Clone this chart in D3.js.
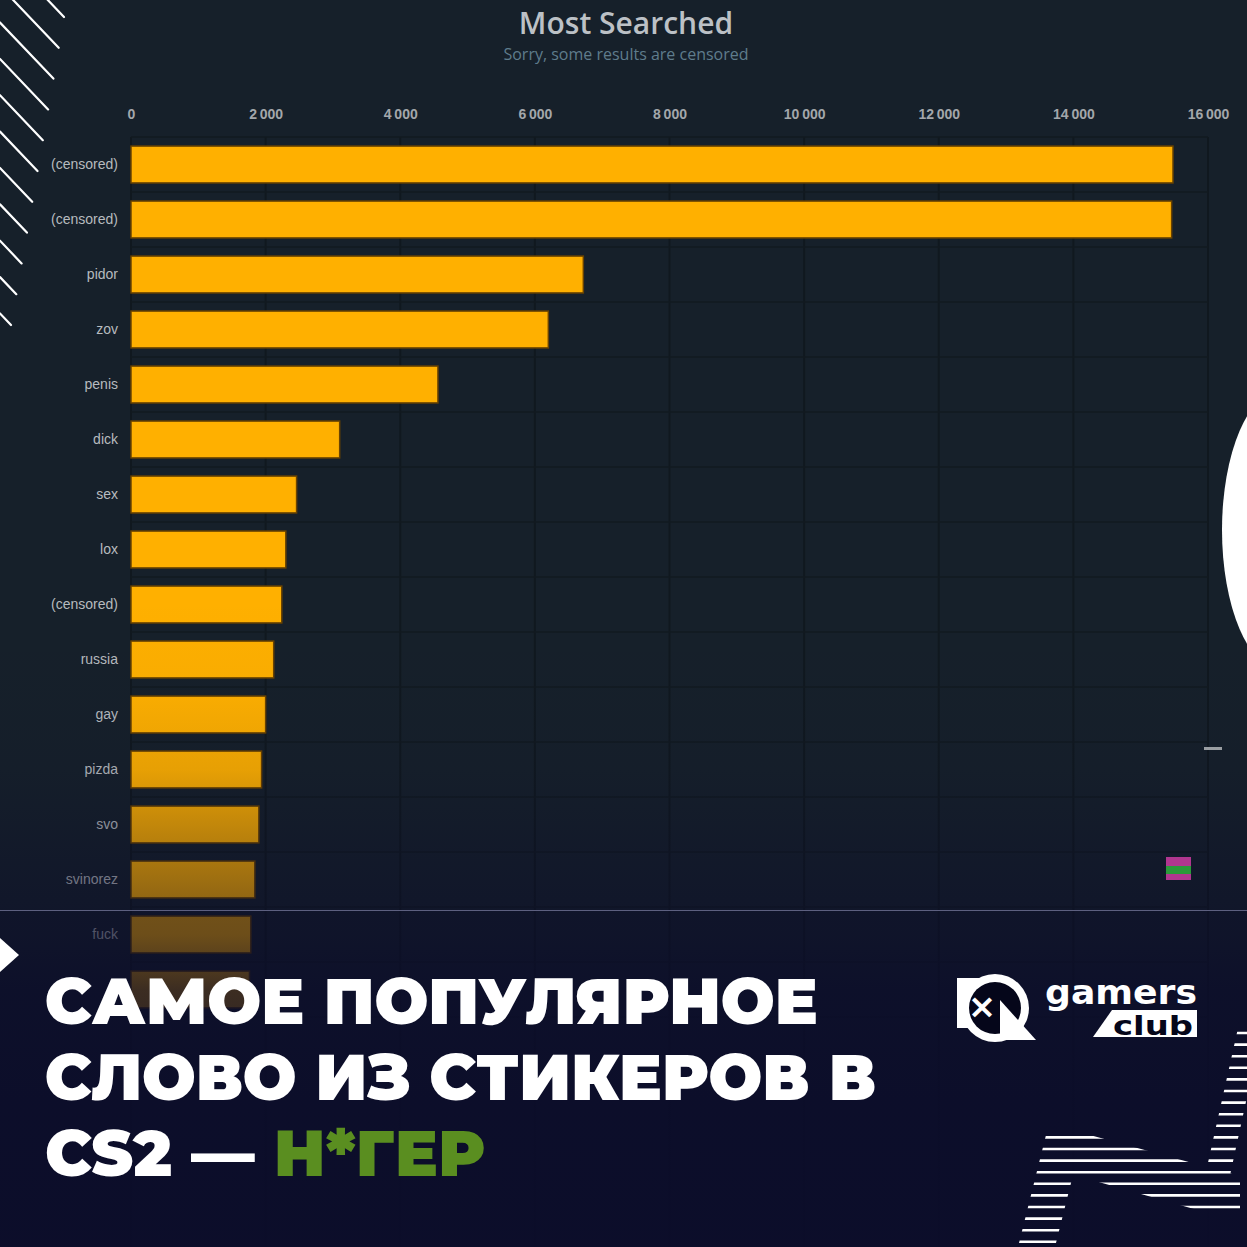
<!DOCTYPE html>
<html>
<head>
<meta charset="utf-8">
<script src="https://cdn.jsdelivr.net/npm/d3@7"></script>
<style>
  html, body { margin: 0; padding: 0; background: #16202a; }
  svg { display: block; }
</style>
</head>
<body>
<div id="chart"></div>
<script>
// данные графика
const categories = [
  "(censored)", "(censored)", "pidor", "zov", "penis", "dick", "sex", "lox",
  "(censored)", "russia", "gay", "pizda", "svo", "svinorez", "fuck", "(censored)"
];
const values = [
  15480, 15460, 6720, 6200, 4560, 3100, 2460, 2300,
  2240, 2120, 2000, 1940, 1900, 1840, 1780, 1760
];
const tickValues = [0, 2000, 4000, 6000, 8000, 10000, 12000, 14000, 16000];
const chartTitle = "Most Searched";
const chartSubtitle = "Sorry, some results are censored";
const headline = [
  [{ t: "САМОЕ ПОПУЛЯРНОЕ" }],
  [{ t: "СЛОВО ИЗ СТИКЕРОВ В" }],
  [{ t: "CS2 — " }, { t: "Н*ГЕР", green: true }]
];

const W = 1247, H = 1247;
const margin = { left: 131, right: 39, top: 137 };

const svg = d3.select("#chart").append("svg")
  .attr("width", W).attr("height", H);

const defs = svg.append("defs");

// fundo
svg.append("rect").attr("width", W).attr("height", H).attr("fill", "#16202a");

// escalas
const x = d3.scaleLinear().domain([0, 16000]).range([margin.left, W - margin.right]);
const y = d3.scaleBand()
  .domain(d3.range(categories.length))
  .range([margin.top, margin.top + categories.length * 55])
  .paddingInner(0.33)
  .paddingOuter(0.165);

const locale = d3.formatLocale({ decimal: ".", thousands: "\u2009", grouping: [3], currency: ["", ""] });
const fmt = locale.format(",");

// grade vertical e horizontal
const grid = svg.append("g");
grid.selectAll("line.v")
  .data(tickValues)
  .enter()
  .append("line")
  .attr("class", "v")
  .attr("x1", d => x(d)).attr("x2", d => x(d))
  .attr("y1", margin.top).attr("y2", H)
  .attr("stroke", "#10181f")
  .attr("stroke-width", 2);

const step = y.step();
grid.selectAll("line.h")
  .data(d3.range(categories.length + 1))
  .enter()
  .append("line")
  .attr("class", "h")
  .attr("x1", margin.left).attr("x2", x(16000))
  .attr("y1", d => margin.top + d * step)
  .attr("y2", d => margin.top + d * step)
  .attr("stroke", "#121a21")
  .attr("stroke-width", 1.5);

// eixo superior
const axis = svg.append("g")
  .attr("transform", `translate(0, ${margin.top - 15})`)
  .call(d3.axisTop(x).tickValues(tickValues).tickFormat(d => fmt(d)).tickSize(0));
axis.select(".domain").remove();
axis.selectAll("text")
  .attr("fill", "#a3a7ab")
  .attr("font-family", "Liberation Sans, Arial, sans-serif")
  .attr("font-size", "14px")
  .attr("font-weight", "bold");

// barras
svg.append("g")
  .selectAll("rect")
  .data(values)
  .enter()
  .append("rect")
  .attr("x", x(0))
  .attr("y", (d, i) => y(i))
  .attr("width", d => x(d) - x(0))
  .attr("height", y.bandwidth())
  .attr("fill", "#ffb000")
  .attr("stroke", "#6a4300")
  .attr("stroke-width", 1.5);

// rótulos das categorias (o último fica escondido atrás da manchete)
svg.append("g")
  .selectAll("text")
  .data(categories.slice(0, 15))
  .enter()
  .append("text")
  .attr("x", 118)
  .attr("y", (d, i) => y(i) + y.bandwidth() / 2)
  .attr("dy", "0.35em")
  .attr("text-anchor", "end")
  .attr("fill", "#b7bbbf")
  .attr("font-family", "Liberation Sans, Arial, sans-serif")
  .attr("font-size", "14px")
  .text(d => d);

// título
svg.append("text")
  .attr("x", 626).attr("y", 34)
  .attr("text-anchor", "middle")
  .attr("fill", "#bcc1c6")
  .attr("font-family", "Open Sans, sans-serif")
  .attr("font-size", "30px")
  .attr("font-weight", 600)
  .text(chartTitle);
svg.append("text")
  .attr("x", 626).attr("y", 60)
  .attr("text-anchor", "middle")
  .attr("fill", "#5f7c8c")
  .attr("font-family", "Open Sans, sans-serif")
  .attr("font-size", "16px")
  .text(chartSubtitle);

// linhas diagonais (canto superior esquerdo)
const diag = svg.append("g").attr("stroke", "#ffffff").attr("stroke-width", 2.2).attr("stroke-linecap", "round");
d3.range(11).forEach(k => {
  const ex = 64 - 5.3 * k, ey = 17 + 30.8 * k;
  const len = ex * 1.0;
  diag.append("line")
    .attr("x1", ex - len).attr("y1", ey - len * 1.05)
    .attr("x2", ex).attr("y2", ey);
});

// escurecimento inferior
const fade = defs.append("linearGradient")
  .attr("id", "fade").attr("gradientUnits", "userSpaceOnUse")
  .attr("x1", 0).attr("x2", 0).attr("y1", 600).attr("y2", H);
[[600, 0], [700, 0.03], [770, 0.1], [825, 0.25], [880, 0.4], [910, 0.48],
 [911, 0.58], [935, 0.6], [990, 0.8], [1100, 0.9], [1247, 0.93]].forEach(s => {
  fade.append("stop")
    .attr("offset", (s[0] - 600) / (H - 600))
    .attr("stop-color", "#0b0c2a")
    .attr("stop-opacity", s[1]);
});
svg.append("rect").attr("x", 0).attr("y", 600).attr("width", W).attr("height", H - 600)
  .attr("fill", "url(#fade)");

// linha divisória
svg.append("line")
  .attr("x1", 0).attr("x2", W).attr("y1", 910.5).attr("y2", 910.5)
  .attr("stroke", "#5d6080").attr("stroke-width", 1);

// semicírculo branco à direita
svg.append("ellipse")
  .attr("cx", 1282).attr("cy", 530).attr("rx", 60).attr("ry", 140)
  .attr("fill", "#ffffff");

// pequenos artefatos
svg.append("rect").attr("x", 1166).attr("y", 857).attr("width", 25).attr("height", 23).attr("fill", "#c23a9a").attr("opacity", 0.9);
svg.append("rect").attr("x", 1166).attr("y", 866).attr("width", 25).attr("height", 8).attr("fill", "#2a9a3a");
svg.append("rect").attr("x", 1204).attr("y", 747).attr("width", 18).attr("height", 3).attr("fill", "#9a9ea2");

// triângulo branco à esquerda
svg.append("path").attr("d", "M0,938 L19,955 L0,972 Z").attr("fill", "#ffffff");

// manchete
headline.forEach((parts, i) => {
  const t = svg.append("text")
    .attr("class", "headline")
    .attr("x", 45).attr("y", 1024 + i * 76)
    .attr("font-family", "Montserrat, Inter, Lato, sans-serif")
    .attr("font-size", "64px")
    .attr("font-weight", 900)
    .attr("fill", "#ffffff");
  parts.forEach(p => {
    t.append("tspan").attr("fill", p.green ? "#5a8e20" : "#ffffff").text(p.t);
  });
});
// ajusta larguras das linhas
const targetW = [773, 831, 440];
svg.selectAll("text.headline")
  .each(function (d, i) {
    const w = this.getComputedTextLength();
    const s = targetW[i] / w;
    d3.select(this).attr("transform", `translate(${45 - 45 * s},0) scale(${s},1)`);
  });

// logo gamers club
const logo = svg.append("g");
logo.append("circle").attr("cx", 995).attr("cy", 1008).attr("r", 34).attr("fill", "#ffffff");
logo.append("rect").attr("x", 957).attr("y", 978).attr("width", 30).attr("height", 50).attr("fill", "#ffffff");
logo.append("circle").attr("cx", 995).attr("cy", 1008).attr("r", 26).attr("fill", "#05061a");
logo.append("path").attr("d", "M1000,1000 L1036,1040 L1000,1040 Z").attr("fill", "#ffffff");
logo.append("text").attr("x", 982).attr("y", 1018)
  .attr("text-anchor", "middle")
  .attr("font-family", "DejaVu Sans, sans-serif").attr("font-weight", "bold")
  .attr("font-size", "34px").attr("fill", "#ffffff").text("×");
logo.append("text").attr("x", 1045).attr("y", 1004)
  .attr("font-family", "DejaVu Sans, sans-serif").attr("font-weight", "bold")
  .attr("font-size", "33px").attr("fill", "#ffffff").attr("textLength", 152)
  .attr("lengthAdjust", "spacingAndGlyphs").text("gamers");
logo.append("path").attr("d", "M1112,1010 L1197,1010 L1197,1037 L1093,1037 Z").attr("fill", "#ffffff");
logo.append("text").attr("x", 1113).attr("y", 1035)
  .attr("font-family", "DejaVu Sans, sans-serif").attr("font-weight", "bold")
  .attr("font-size", "27px").attr("fill", "#05061a").attr("textLength", 80)
  .attr("lengthAdjust", "spacingAndGlyphs").text("club");

// listras no canto inferior direito
const clip = defs.append("clipPath").attr("id", "stripeClip");
[
  "M1047,1131 L1084,1131 L1055,1247 L1018,1247 Z",
  "M1047,1131 L1075,1131 L1240,1176 L1240,1212 L1205,1212 L1049,1168 Z",
  "M1238,1028 L1262,1028 L1222,1212 L1197,1212 Z"
].forEach(dd => clip.append("path").attr("d", dd));
svg.append("g").attr("clip-path", "url(#stripeClip)")
  .selectAll("line")
  .data(d3.range(20))
  .enter()
  .append("line")
  .attr("x1", 990).attr("x2", W)
  .attr("y1", d => 1033 + d * 11.6).attr("y2", d => 1033 + d * 11.6)
  .attr("stroke", "#ffffff").attr("stroke-width", 2.6);
</script>
</body>
</html>
